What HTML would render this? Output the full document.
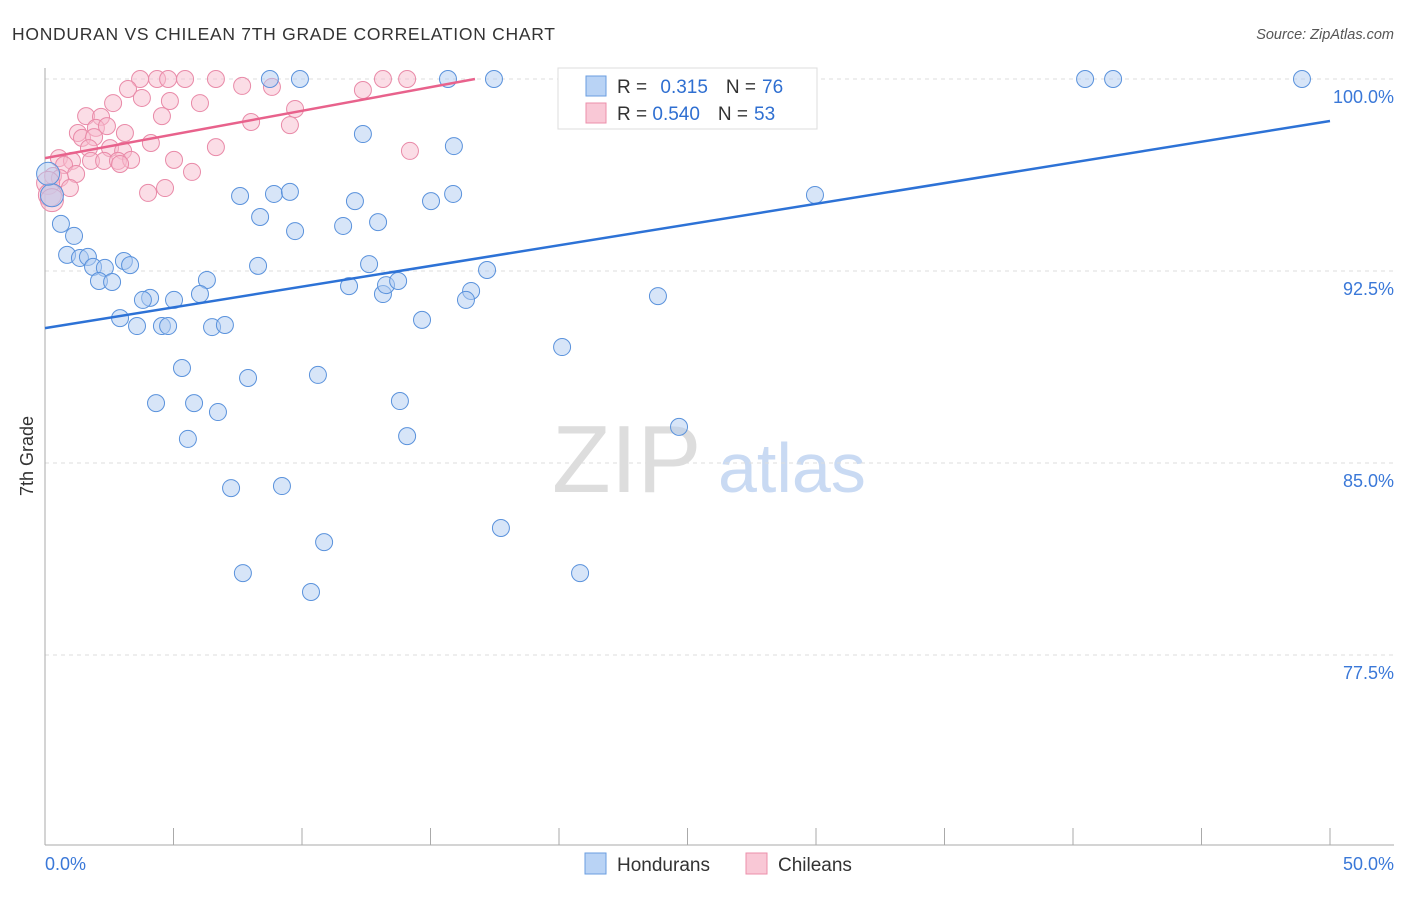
<!DOCTYPE html>
<html><head><meta charset="utf-8"><style>
body{margin:0;background:#fff;font-family:"Liberation Sans",sans-serif}
svg text{font-family:"Liberation Sans",sans-serif}
</style></head><body>
<svg id="chart" width="1406" height="892">
<text x="12" y="40" font-size="17.5" fill="#333" textLength="543" lengthAdjust="spacing">HONDURAN VS CHILEAN 7TH GRADE CORRELATION CHART</text>
<text x="1394" y="39" font-size="14.5" fill="#555" font-style="italic" text-anchor="end">Source: ZipAtlas.com</text>
<text x="33" y="456" font-size="18" fill="#333" transform="rotate(-90 33 456)" text-anchor="middle">7th Grade</text>
<g><text x="552" y="492" font-size="96" fill="#ddd" font-family="Liberation Serif">ZIP</text><text x="718" y="492" font-size="70" fill="#c9daf3">atlas</text></g>
<g id="grid"></g><g id="axes"></g><g id="pts"></g><g id="trend"></g>
<g>
<rect x="558" y="68" width="259" height="61" fill="#fff" stroke="#ddd"/>
<rect x="586" y="76" width="20" height="20" fill="#b9d3f5" stroke="#6a9ee0"/>
<rect x="586" y="103" width="20" height="20" fill="#f9c8d6" stroke="#ec8fab"/>
<text x="617" y="93" font-size="19" fill="#333">R = <tspan fill="#2f6fd1" dx="8">0.315</tspan><tspan fill="#333" dx="18">N =</tspan><tspan fill="#2f6fd1" dx="6">76</tspan></text>
<text x="617" y="120" font-size="19" fill="#333">R = <tspan fill="#2f6fd1" dx="0">0.540</tspan><tspan fill="#333" dx="18">N =</tspan><tspan fill="#2f6fd1" dx="6">53</tspan></text>
</g>
<g>
<rect x="585" y="853" width="21" height="21" fill="#b9d3f5" stroke="#6a9ee0"/>
<text x="617" y="871" font-size="19" fill="#333">Hondurans</text>
<rect x="746" y="853" width="21" height="21" fill="#f9c8d6" stroke="#ec8fab"/>
<text x="778" y="871" font-size="19" fill="#333">Chileans</text>
</g>
</svg>
<script>
const blueX=[8.75,9.92,15.68,17.47,40.47,41.56,48.91,24.94,28.17,12.37,15.91,7.59,8.91,9.53,12.06,15.02,15.88,29.96,8.37,9.73,11.60,12.96,0.62,1.13,0.86,1.36,1.67,1.87,2.33,3.07,3.31,2.10,2.61,8.29,12.61,17.20,6.30,11.83,13.15,13.27,13.74,16.58,16.38,23.85,4.09,3.81,5.02,6.03,2.92,3.58,4.55,4.79,6.50,7.00,14.67,20.12,5.33,7.90,10.62,4.32,5.80,6.73,13.81,5.56,14.09,24.67,7.24,9.22,17.74,10.86,7.70,20.82,10.35,0.27,0.12];
const blueY=[100,100,100,100,100,100,100,100,100,97.85,97.38,95.43,95.51,95.59,95.23,95.23,95.51,95.47,94.61,94.06,94.26,94.41,94.34,93.87,93.13,93.01,93.05,92.66,92.62,92.89,92.73,92.11,92.07,92.70,92.77,92.54,92.15,91.91,91.60,91.95,92.11,91.72,91.37,91.52,91.45,91.37,91.37,91.60,90.66,90.35,90.35,90.35,90.31,90.39,90.59,89.53,88.71,88.32,88.44,87.34,87.34,86.99,87.42,85.94,86.05,86.41,84.02,84.10,82.46,81.91,80.70,80.70,79.96,95.46,96.30];
const pinkX=[3.70,4.36,4.79,5.45,6.65,13.15,14.09,7.67,8.83,12.37,3.23,2.65,3.77,4.86,6.03,9.73,1.60,2.18,4.55,8.02,9.53,1.28,1.98,2.41,3.11,1.44,1.91,4.12,1.71,2.53,6.65,3.04,14.20,0.54,1.05,1.79,2.30,2.84,3.35,5.02,0.74,2.92,5.72,1.21,0.31,0.58,4.01,4.67,0.97,0.12,0.19,0.27];
const pinkY=[100,100,100,100,100,100,100,99.73,99.69,99.57,99.61,99.06,99.26,99.14,99.06,98.83,98.55,98.52,98.55,98.32,98.20,97.89,98.09,98.16,97.89,97.70,97.73,97.50,97.30,97.30,97.34,97.19,97.19,96.91,96.80,96.80,96.80,96.80,96.84,96.84,96.64,96.68,96.37,96.29,96.21,96.13,95.55,95.74,95.74,95.94,95.47,95.27];
const blueTrend=[[0,90.27],[50,98.36]];
const pinkTrend=[[0,96.91],[16.73,100]];
const yTicks=[100,92.5,85,77.5];
const yTickLabels=["100.0%","92.5%","85.0%","77.5%"];
const xTickLabels=["0.0%","50.0%"];
const NS="http://www.w3.org/2000/svg";
const sx=v=>45+v/50*1285, sy=v=>79+(100-v)*25.6;
function mk(tag,at,parent){const e=document.createElementNS(NS,tag);for(const k in at)e.setAttribute(k,at[k]);document.getElementById(parent).appendChild(e);return e;}
yTicks.forEach((t,i)=>{
 const l=mk('line',{x1:45,x2:1394,y1:sy(t),y2:sy(t),stroke:'#ddd','stroke-dasharray':'4,4'},'grid');
 
 
 const tx=mk('text',{x:1394,y:sy(t)+24,'font-size':18,fill:'#3a78d8','text-anchor':'end'},'axes');tx.textContent=yTickLabels[i];
 
 
});
const ax=mk('line',{x1:45,x2:45,y1:68,y2:845,stroke:'#aaa'},'axes');


const bx=mk('line',{x1:45,x2:1394,y1:845,y2:845,stroke:'#aaa'},'axes');


for(let i=0;i<=10;i++){const t=mk('line',{x1:sx(i*5),x2:sx(i*5),y1:828,y2:845,stroke:'#aaa'},'axes');
 
 }
[[0,'start'],[50,'end']].forEach((p,i)=>{const t=mk('text',{x:i?1394:45,y:870,'font-size':18,fill:'#3a78d8','text-anchor':p[1]},'axes');t.textContent=xTickLabels[i];
 
 });
function pts(X,Y,fill,stroke,name){X.forEach((x,i)=>{const r=x<0.3?11.5:8.5;const c=mk('circle',{cx:sx(x),cy:sy(Y[i]),r:r,fill:fill,'fill-opacity':0.5,stroke:stroke,'stroke-width':1},'pts');
 
 });}
pts(pinkX,pinkY,'#f7bccd','#e98aa8','chilean-point');
pts(blueX,blueY,'#afcbf2','#5a92dc','honduran-point');
const bl=mk('line',{x1:sx(blueTrend[0][0]),y1:sy(blueTrend[0][1]),x2:sx(blueTrend[1][0]),y2:sy(blueTrend[1][1]),stroke:'#2d72d6','stroke-width':2.5},'trend');


const pl=mk('line',{x1:sx(pinkTrend[0][0]),y1:sy(pinkTrend[0][1]),x2:sx(pinkTrend[1][0]),y2:sy(pinkTrend[1][1]),stroke:'#e8628c','stroke-width':2.5},'trend');


</script>
</body></html>
